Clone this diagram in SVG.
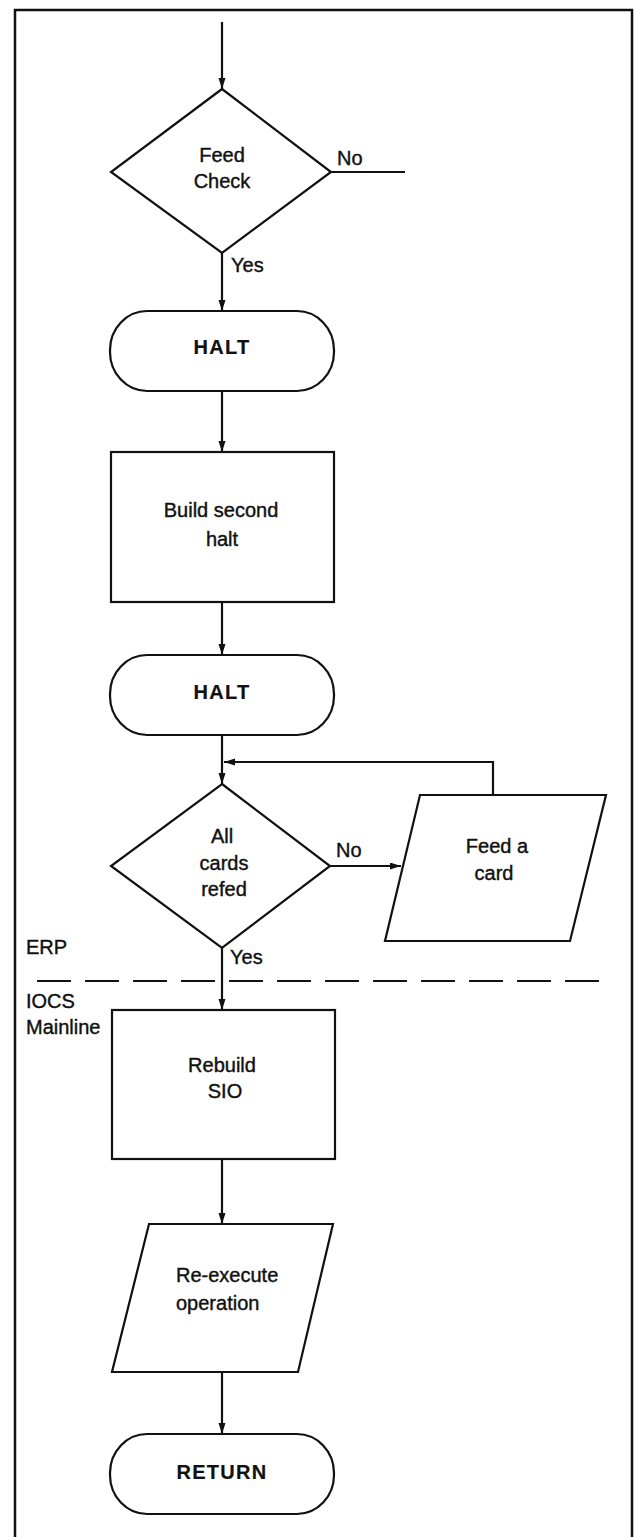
<svg xmlns="http://www.w3.org/2000/svg" width="634" height="1537" viewBox="0 0 634 1537">
  <style>
    .frame { fill: none; stroke: #111; stroke-width: 2.5; }
    .ln { fill: none; stroke: #111; stroke-width: 2.2; }
    .dash { fill: none; stroke: #111; stroke-width: 2.2; stroke-dasharray: 34 14; }
    .shape { fill: #fff; stroke: #111; stroke-width: 2.2; }
    .t { font-family: "Liberation Sans", Arial, sans-serif; font-size: 20px; fill: #111; stroke: #111; stroke-width: 0.4; text-anchor: middle; }
    .b { font-weight: bold; stroke-width: 0.2; letter-spacing: 1.3px; }
    .s { text-anchor: start; }
  </style>
  <defs>
    <marker id="arrow" markerUnits="userSpaceOnUse" markerWidth="12" markerHeight="8" refX="11" refY="3.5" orient="auto">
      <path d="M0,0 L11,3.5 L0,7 z" fill="#111"/>
    </marker>
  </defs>

  <rect width="634" height="1537" fill="#fff"/>

  <!-- page frame -->
  <path class="frame" d="M15,1537 V10 H632 V1537"/>

  <!-- section divider -->
  <line class="dash" x1="37" y1="981" x2="603" y2="981"/>
  <text class="t s" x="26" y="954">ERP</text>
  <text class="t s" x="26" y="1008">IOCS</text>
  <text class="t s" x="26" y="1034">Mainline</text>

  <g id="connectors">
    <path class="ln" d="M222,22 V89" marker-end="url(#arrow)"/>
    <path class="ln" d="M331,172 H405"/>
    <path class="ln" d="M222,253 V311" marker-end="url(#arrow)"/>
    <path class="ln" d="M222,391 V452" marker-end="url(#arrow)"/>
    <path class="ln" d="M222,602 V655" marker-end="url(#arrow)"/>
    <path class="ln" d="M222,735 V784" marker-end="url(#arrow)"/>
    <path class="ln" d="M493,795 V762 H224" marker-end="url(#arrow)"/>
    <path class="ln" d="M330,866 H401" marker-end="url(#arrow)"/>
    <path class="ln" d="M222,948 V1010" marker-end="url(#arrow)"/>
    <path class="ln" d="M222,1159 V1224" marker-end="url(#arrow)"/>
    <path class="ln" d="M222,1372 V1434" marker-end="url(#arrow)"/>
    <text class="t s" x="337" y="165">No</text>
    <text class="t s" x="231" y="272">Yes</text>
    <text class="t s" x="336" y="857">No</text>
    <text class="t s" x="230" y="964">Yes</text>
  </g>

  <g id="feed-check">
    <polygon class="shape" points="222,89 331,172 222,253 111,172"/>
    <text class="t" x="222" y="162">Feed</text>
    <text class="t" x="222" y="188">Check</text>
  </g>

  <g id="halt-1">
    <rect class="shape" x="110" y="311" width="224" height="80" rx="37" ry="39"/>
    <text class="t b" x="222" y="354">HALT</text>
  </g>

  <g id="build-second-halt">
    <rect class="shape" x="111" y="452" width="223" height="150"/>
    <text class="t" x="221" y="517">Build second</text>
    <text class="t" x="222" y="546">halt</text>
  </g>

  <g id="halt-2">
    <rect class="shape" x="110" y="655" width="224" height="80" rx="37" ry="39"/>
    <text class="t b" x="222" y="699">HALT</text>
  </g>

  <g id="all-cards-refed">
    <polygon class="shape" points="222,784 330,866 222,948 111,866"/>
    <text class="t" x="222" y="843">All</text>
    <text class="t" x="224" y="870">cards</text>
    <text class="t" x="224" y="896">refed</text>
  </g>

  <g id="feed-a-card">
    <polygon class="shape" points="420,795 606,795 570,941 385,941"/>
    <text class="t" x="497" y="853">Feed a</text>
    <text class="t" x="494" y="880">card</text>
  </g>

  <g id="rebuild-sio">
    <rect class="shape" x="112" y="1010" width="223" height="149"/>
    <text class="t" x="222" y="1072">Rebuild</text>
    <text class="t" x="225" y="1098">SIO</text>
  </g>

  <g id="re-execute">
    <polygon class="shape" points="149,1224 333,1224 298,1372 112,1372"/>
    <text class="t s" x="176" y="1282">Re-execute</text>
    <text class="t s" x="176" y="1310">operation</text>
  </g>

  <g id="return">
    <rect class="shape" x="110" y="1434" width="224" height="80" rx="37" ry="39"/>
    <text class="t b" x="222" y="1479">RETURN</text>
  </g>
</svg>
